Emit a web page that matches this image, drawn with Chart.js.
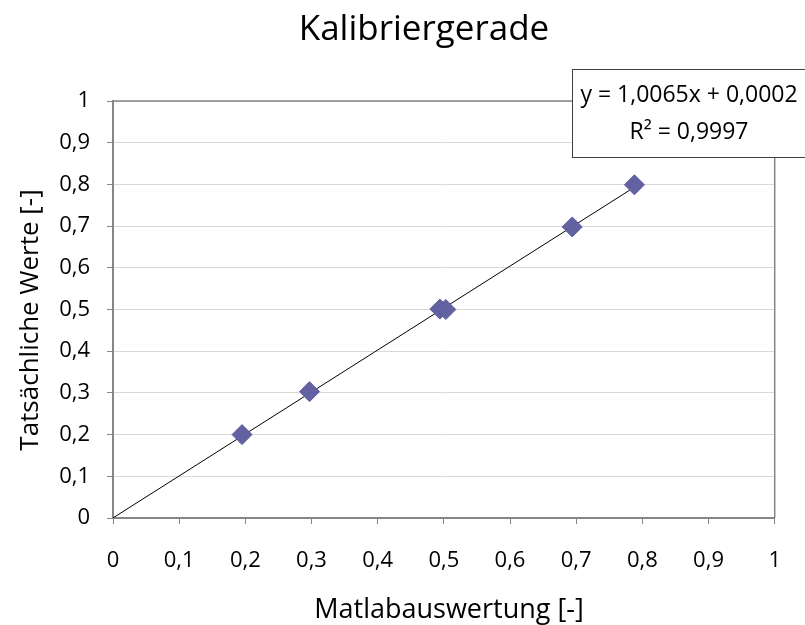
<!DOCTYPE html>
<html>
<head>
<meta charset="utf-8">
<script src="https://cdn.jsdelivr.net/npm/chart.js@4/dist/chart.umd.min.js"></script>
<style>
html,body{margin:0;padding:0;background:#fff;}
#wrap{width:805px;height:625px;}
</style>
</head>
<body>
<div id="wrap"><canvas id="c" width="805" height="625"></canvas></div>
<script>
const chartTitle = "Kalibriergerade";
const xAxisTitle = "Matlabauswertung [-]";
const yAxisTitle = "Tatsächliche Werte [-]";
const xValues = [0.195, 0.297, 0.494, 0.503, 0.694, 0.788];
const yValues = [0.200, 0.303, 0.501, 0.500, 0.698, 0.799];
const trendSlope = [1.0065];
const trendIntercept = [0.0002];
const equationLines = ["y = 1,0065x + 0,0002", "R² = 0,9997"];
const tickValues = [0, 0.1, 0.2, 0.3, 0.4, 0.5, 0.6, 0.7, 0.8, 0.9, 1];

const FONT = "'Open Sans'";
const fmt = v => String(Math.round(v * 10) / 10).replace('.', ',');

const points = xValues.map((x, i) => ({x: x, y: yValues[i]}));
const xMaxData = Math.max(...xValues);
const trend = [0, xMaxData].map(x => ({x: x, y: trendSlope[0] * x + trendIntercept[0]}));

const decor = {
  id: 'decor',
  afterDraw(chart) {
    const ctx = chart.ctx, a = chart.chartArea;
    ctx.save();
    // plot border top/right
    ctx.strokeStyle = '#868686';
    ctx.lineWidth = 1.5;
    ctx.beginPath();
    ctx.moveTo(a.left, a.top); ctx.lineTo(a.right, a.top); ctx.lineTo(a.right, a.bottom);
    ctx.stroke();
    ctx.fillStyle = '#000';
    ctx.textAlign = 'center';
    ctx.textBaseline = 'alphabetic';
    // title
    ctx.font = `35px ${FONT}`;
    ctx.fillText(chartTitle, 424, 40);
    // axis titles
    ctx.font = `27px ${FONT}`;
    ctx.fillText(xAxisTitle, 449, 618);
    ctx.save();
    ctx.translate(38, 320);
    ctx.rotate(-Math.PI / 2);
    ctx.font = `26px ${FONT}`;
    ctx.fillText(yAxisTitle, 0, 0);
    ctx.restore();
    // equation box
    ctx.fillStyle = '#fff';
    ctx.fillRect(572, 69, 240, 88);
    ctx.strokeStyle = '#404040';
    ctx.lineWidth = 1;
    ctx.strokeRect(572.5, 69.5, 240, 88);
    ctx.fillStyle = '#000';
    ctx.font = `23px ${FONT}`;
    ctx.fillText(equationLines[0], 689, 102);
    ctx.fillText(equationLines[1], 689, 139);
    ctx.restore();
  }
};

new Chart(document.getElementById('c'), {
  type: 'scatter',
  data: {
    datasets: [
      {
        type: 'line',
        data: trend,
        borderColor: '#000',
        borderWidth: 1,
        pointRadius: 0,
        fill: false,
        order: 2
      },
      {
        data: points,
        pointStyle: 'rectRot',
        pointRadius: 10,
        pointHoverRadius: 10,
        backgroundColor: '#6262A2',
        borderColor: '#5A5A9A',
        borderWidth: 1,
        order: 1
      }
    ]
  },
  options: {
    responsive: false,
    animation: false,
    layout: {padding: {top: 101, right: 28, left: 0, bottom: 0}},
    plugins: {legend: {display: false}, tooltip: {enabled: false}},
    scales: {
      x: {
        type: 'linear', min: 0, max: 1,
        afterBuildTicks: s => { s.ticks = tickValues.map(v => ({value: v})); },
        afterFit: s => { s.height = 107; },
        ticks: {color: '#000', font: {family: FONT, size: 22}, padding: 24, callback: v => fmt(v), maxRotation: 0},
        grid: {drawOnChartArea: false, drawTicks: true, tickLength: 6, tickColor: '#868686'},
        border: {color: '#868686', width: 2}
      },
      y: {
        type: 'linear', min: 0, max: 1,
        afterBuildTicks: s => { s.ticks = tickValues.map(v => ({value: v})); },
        afterFit: s => { s.width = 113; },
        ticks: {color: '#000', font: {family: FONT, size: 22}, padding: 17, callback: v => fmt(v)},
        grid: {color: '#d9d9d9', lineWidth: 1, drawTicks: true, tickLength: 6, tickColor: '#868686'},
        border: {color: '#868686', width: 2}
      }
    }
  },
  plugins: [decor]
});
</script>
</body>
</html>
